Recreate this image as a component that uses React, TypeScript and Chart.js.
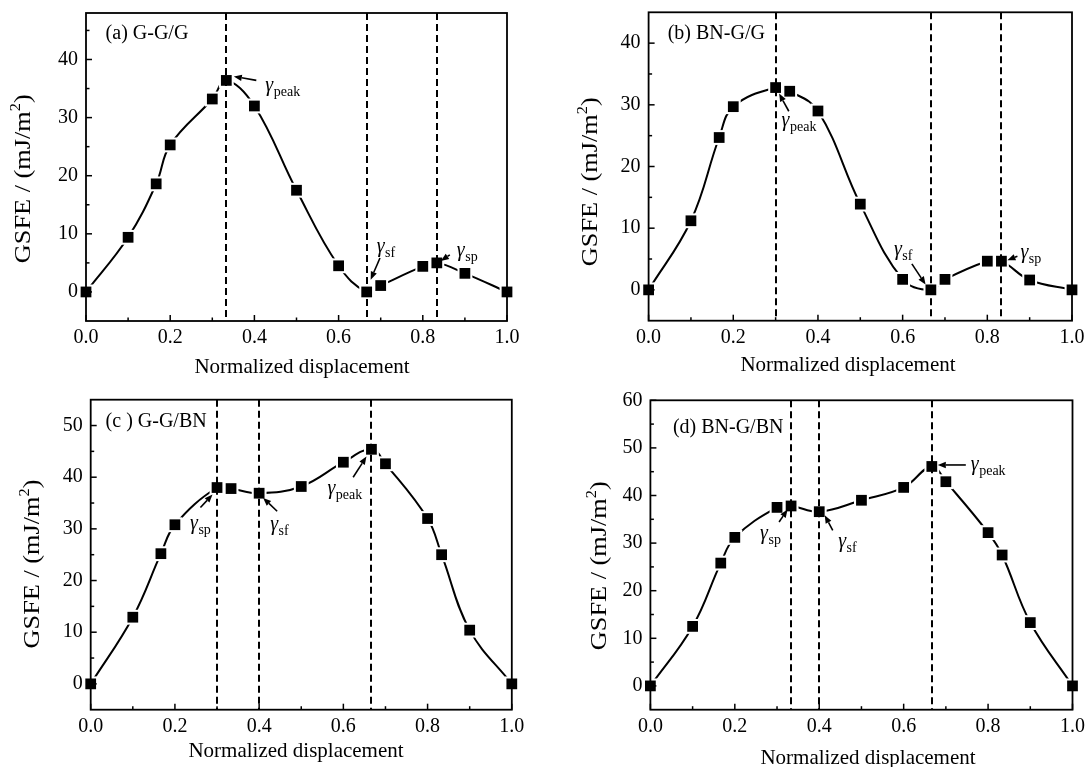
import React, { useEffect, useRef } from 'react';
import { Chart, registerables } from 'chart.js';

Chart.register(...registerables);
Chart.defaults.font.family = '"Liberation Serif", "Times New Roman", serif';

// ---------- data ----------
const xPos = [0, 0.1, 0.1667, 0.2, 0.3, 0.3333, 0.4, 0.5, 0.6, 0.6667, 0.7, 0.8, 0.8333, 0.9, 1.0];
const gsfeA = [0, 9.4, 18.6, 25.3, 33.2, 36.4, 32.0, 17.5, 4.5, 0, 1.1, 4.4, 5.0, 3.2, 0];
const gsfeB = [0, 11.2, 24.7, 29.7, 32.8, 32.2, 29.0, 13.9, 1.7, 0, 1.7, 4.65, 4.65, 1.6, 0];
const gsfeC = [0, 12.9, 25.2, 30.8, 38.0, 37.8, 36.9, 38.2, 42.9, 45.4, 42.6, 32.0, 25.0, 10.4, 0];
const gsfeD = [0, 12.5, 25.8, 31.2, 37.5, 37.8, 36.6, 39.0, 41.7, 46.1, 42.9, 32.2, 27.5, 13.3, 0];

const dashA = [0.3333, 0.6667, 0.8333];
const dashB = [0.3, 0.6667, 0.8333];
const dashC = [0.3, 0.4, 0.6667];
const dashD = [0.3333, 0.4, 0.6667];

const xTicks = [0, 0.2, 0.4, 0.6, 0.8, 1.0];
const xMinor = [0.1, 0.3, 0.5, 0.7, 0.9];
const yTicksA = [0, 10, 20, 30, 40];
const yTicksB = [0, 10, 20, 30, 40];
const yTicksC = [0, 10, 20, 30, 40, 50];
const yTicksD = [0, 10, 20, 30, 40, 50, 60];
const yMinorA = [5, 15, 25, 35, 45];
const yMinorB = [5, 15, 25, 35];
const yMinorC = [5, 15, 25, 35, 45];
const yMinorD = [5, 15, 25, 35, 45, 55];

const xTitle = 'Normalized displacement';
const yTitleMain = 'GSFE / (mJ/m';
const yTitleSup = '2';
const yTitleEnd = ')';

const FONT = '"Liberation Serif", "Times New Roman", serif';

type Ann = { i: number; sub: string; t: [number, number]; a: [number, number, number, number] };

const panels = [
  {
    key: 'a', left: 0, top: 0, w: 543, h: 384,
    values: gsfeA, dashes: dashA, yMin: -5, yMax: 48, yTicks: yTicksA, yMinor: yMinorA,
    pad: { left: 86, top: 13, right: 36, bottom: 63 },
    label: '(a) G-G/G', labelPos: [105.6, 39], xTitlePos: [302, 373], yTitlePos: [29.5, 178.7],
    anns: [
      { i: 5, sub: 'peak', t: [39, 10.7], a: [30, 0, 7.5, -4] },
      { i: 9, sub: 'sf', t: [10, -39.6], a: [13.3, -34, 4, -12.3] },
      { i: 12, sub: 'sp', t: [20, -7], a: [13, -8, 4, -2] },
    ] as Ann[],
  },
  {
    key: 'b', left: 543, top: 0, w: 543, h: 384,
    values: gsfeB, dashes: dashB, yMin: -5, yMax: 45, yTicks: yTicksB, yMinor: yMinorB,
    pad: { left: 105.6, top: 12.3, right: 14, bottom: 63.3 },
    label: '(b) BN-G/G', labelPos: [124.7, 39], xTitlePos: [305, 371], yTitlePos: [53.7, 181.7],
    anns: [
      { i: 4, sub: 'peak', t: [6, 38], a: [13.2, 23.7, 3.5, 6] },
      { i: 9, sub: 'sf', t: [-37, -35], a: [-19, -26, -5.3, -5.3] },
      { i: 12, sub: 'sp', t: [19, -3], a: [16, -5, 6, -1] },
    ] as Ann[],
  },
  {
    key: 'c', left: 0, top: 384, w: 543, h: 383,
    values: gsfeC, dashes: dashC, yMin: -5, yMax: 55, yTicks: yTicksC, yMinor: yMinorC,
    pad: { left: 90.7, top: 15.7, right: 31.2, bottom: 57.3 },
    label: '(c ) G-G/BN', labelPos: [105.6, 42.7], xTitlePos: [296, 373], yTitlePos: [38.8, 180],
    anns: [
      { i: 4, sub: 'sp', t: [-27, 41], a: [-16.6, 20, -4.5, 7] },
      { i: 6, sub: 'sf', t: [11, 37], a: [18, 18, 4, 4.7] },
      { i: 9, sub: 'peak', t: [-44, 44.6], a: [-18.3, 27.9, -5, 7.3] },
    ] as Ann[],
  },
  {
    key: 'd', left: 543, top: 384, w: 543, h: 383,
    values: gsfeD, dashes: dashD, yMin: -5, yMax: 60, yTicks: yTicksD, yMinor: yMinorD,
    pad: { left: 107.4, top: 16.3, right: 13.5, bottom: 57.3 },
    label: '(d) BN-G/BN', labelPos: [129.9, 49], xTitlePos: [325, 379.5], yTitlePos: [63, 181.7],
    anns: [
      { i: 5, sub: 'sp', t: [-31, 33], a: [-12, 16, -3.5, 3.6] },
      { i: 6, sub: 'sf', t: [19, 35], a: [13.5, 18.6, 5.5, 3.6] },
      { i: 9, sub: 'peak', t: [39, 3.5], a: [34, -1.5, 6, -1.5] },
    ] as Ann[],
  },
];

type PanelCfg = typeof panels[number];

function drawArrow(ctx: CanvasRenderingContext2D, x1: number, y1: number, x2: number, y2: number) {
  const ang = Math.atan2(y2 - y1, x2 - x1);
  const hl = 8, hw = 3.2;
  const bx = x2 - hl * Math.cos(ang), by = y2 - hl * Math.sin(ang);
  ctx.beginPath();
  ctx.moveTo(x1, y1);
  ctx.lineTo(bx, by);
  ctx.lineWidth = 1.6;
  ctx.stroke();
  ctx.beginPath();
  ctx.moveTo(x2, y2);
  ctx.lineTo(bx + hw * Math.sin(ang), by - hw * Math.cos(ang));
  ctx.lineTo(bx - hw * Math.sin(ang), by + hw * Math.cos(ang));
  ctx.closePath();
  ctx.fill();
}

function makeDecor(cfg: PanelCfg) {
  return {
    id: 'decor_' + cfg.key,
    afterDatasetsDraw(chart: any) {
      const { ctx, chartArea: ca } = chart;
      const xs = chart.scales.x, ys = chart.scales.y;
      ctx.save();
      ctx.strokeStyle = '#000';
      ctx.fillStyle = '#000';
      // dashed reference lines
      ctx.lineWidth = 2;
      ctx.setLineDash([7, 4]);
      cfg.dashes.forEach((v) => {
        const px = Math.round(xs.getPixelForValue(v));
        ctx.beginPath();
        ctx.moveTo(px, ca.top);
        ctx.lineTo(px, ca.bottom);
        ctx.stroke();
      });
      ctx.setLineDash([]);
      // frame
      ctx.lineWidth = 1.8;
      ctx.strokeRect(ca.left, ca.top, ca.right - ca.left, ca.bottom - ca.top);
      // inward ticks
      ctx.lineWidth = 1.5;
      const tick = (x1: number, y1: number, x2: number, y2: number) => {
        ctx.beginPath(); ctx.moveTo(x1, y1); ctx.lineTo(x2, y2); ctx.stroke();
      };
      xTicks.forEach((v) => { const p = xs.getPixelForValue(v); tick(p, ca.bottom, p, ca.bottom - 6); });
      xMinor.forEach((v) => { const p = xs.getPixelForValue(v); tick(p, ca.bottom, p, ca.bottom - 3.5); });
      cfg.yTicks.forEach((v) => { const p = ys.getPixelForValue(v); tick(ca.left, p, ca.left + 6, p); });
      cfg.yMinor.forEach((v) => { const p = ys.getPixelForValue(v); tick(ca.left, p, ca.left + 3.5, p); });

      // annotations
      cfg.anns.forEach((an) => {
        const mx = xs.getPixelForValue(xPos[an.i]);
        const my = ys.getPixelForValue(cfg.values[an.i]);
        drawArrow(ctx, mx + an.a[0], my + an.a[1], mx + an.a[2], my + an.a[3]);
        const tx = mx + an.t[0], ty = my + an.t[1];
        ctx.textAlign = 'left';
        ctx.textBaseline = 'alphabetic';
        ctx.font = `italic 20px ${FONT}`;
        ctx.fillText('γ', tx, ty);
        const gw = ctx.measureText('γ').width;
        ctx.font = `14px ${FONT}`;
        ctx.fillText(an.sub, tx + gw + 0.5, ty + 5);
      });

      // panel label
      ctx.font = `20px ${FONT}`;
      ctx.textAlign = 'left';
      ctx.textBaseline = 'alphabetic';
      ctx.fillText(cfg.label, cfg.labelPos[0], cfg.labelPos[1]);

      // x title
      ctx.font = `21px ${FONT}`;
      ctx.textAlign = 'center';
      ctx.fillText(xTitle, cfg.xTitlePos[0], cfg.xTitlePos[1]);

      // y title (rotated)
      ctx.save();
      ctx.translate(cfg.yTitlePos[0], cfg.yTitlePos[1]);
      ctx.rotate(-Math.PI / 2);
      ctx.font = `24px ${FONT}`;
      const wMain = ctx.measureText(yTitleMain).width;
      ctx.font = `15px ${FONT}`;
      const wSup = ctx.measureText(yTitleSup).width;
      ctx.font = `24px ${FONT}`;
      const wEnd = ctx.measureText(yTitleEnd).width;
      const total = wMain + wSup + wEnd;
      const s = 169 / total;
      ctx.scale(s, 1);
      ctx.textAlign = 'left';
      let cx = -total / 2;
      ctx.fillText(yTitleMain, cx, 0);
      cx += wMain;
      ctx.font = `15px ${FONT}`;
      ctx.fillText(yTitleSup, cx, -10);
      cx += wSup;
      ctx.font = `24px ${FONT}`;
      ctx.fillText(yTitleEnd, cx, 0);
      ctx.restore();

      ctx.restore();
    },
  };
}

function Panel({ cfg }: { cfg: PanelCfg }) {
  const ref = useRef<HTMLCanvasElement>(null);
  useEffect(() => {
    const pts = xPos.map((x, i) => ({ x, y: cfg.values[i] }));
    const chart = new Chart(ref.current as HTMLCanvasElement, {
      type: 'line',
      data: {
        datasets: [
          {
            data: pts, showLine: false, pointStyle: 'rect', pointRadius: 7.6,
            pointBackgroundColor: '#000', pointBorderWidth: 0, order: 0, clip: false,
          } as any,
          {
            data: pts, showLine: false, pointStyle: 'rect', pointRadius: 10.5,
            pointBackgroundColor: '#fff', pointBorderWidth: 0, order: 1, clip: false,
          } as any,
          {
            data: pts, borderColor: '#000', borderWidth: 2, pointRadius: 0, tension: 0.4,
            fill: false, order: 2, clip: false,
          } as any,
        ],
      },
      options: {
        responsive: false,
        animation: false,
        devicePixelRatio: 1,
        events: [],
        layout: { padding: { left: 0, bottom: 0, top: cfg.pad.top, right: cfg.pad.right } },
        plugins: { legend: { display: false }, tooltip: { enabled: false } },
        scales: {
          x: {
            type: 'linear', min: 0, max: 1,
            grid: { display: false, drawTicks: false },
            border: { display: false },
            afterBuildTicks: (sc: any) => { sc.ticks = xTicks.map((v) => ({ value: v })); },
            afterFit: (sc: any) => {
              sc.height = cfg.pad.bottom;
              sc.paddingLeft = 0; sc.paddingRight = 0; sc.paddingTop = 0; sc.paddingBottom = 0;
            },
            ticks: {
              padding: 5, color: '#000', autoSkip: false, maxRotation: 0,
              font: { family: FONT, size: 20 },
              callback: (v: any) => Number(v).toFixed(1),
            },
          },
          y: {
            type: 'linear', min: cfg.yMin, max: cfg.yMax,
            grid: { display: false, drawTicks: false },
            border: { display: false },
            afterBuildTicks: (sc: any) => { sc.ticks = cfg.yTicks.map((v) => ({ value: v })); },
            afterFit: (sc: any) => {
              sc.width = cfg.pad.left;
              sc.paddingLeft = 0; sc.paddingRight = 0; sc.paddingTop = 0; sc.paddingBottom = 0;
            },
            ticks: {
              padding: 8, color: '#000',
              font: { family: FONT, size: 20 },
              callback: (v: any) => String(v),
            },
          },
        },
      } as any,
      plugins: [makeDecor(cfg)],
    });
    return () => chart.destroy();
  }, []);
  return (
    <canvas
      ref={ref}
      width={cfg.w}
      height={cfg.h}
      style={{ position: 'absolute', left: cfg.left, top: cfg.top, width: cfg.w, height: cfg.h }}
    />
  );
}

export default function App() {
  return (
    <div style={{ position: 'absolute', left: 0, top: 0, width: 1086, height: 767, background: '#fff', overflow: 'hidden' }}>
      {panels.map((p) => (
        <Panel key={p.key} cfg={p} />
      ))}
    </div>
  );
}
